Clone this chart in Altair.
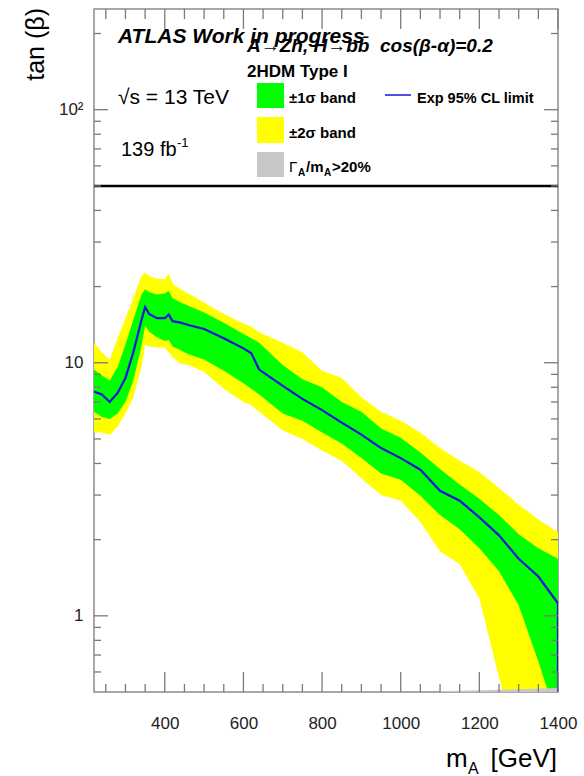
import altair as alt
import pandas as pd

# ---------------- data ----------------
mass = [220, 240, 260, 280, 300, 320, 340, 350, 360, 380, 400, 410, 420, 440, 460,
        500, 550, 600, 620, 640, 700, 750, 800, 850, 900, 950, 1000, 1050, 1100,
        1150, 1200, 1250, 1300, 1350, 1400]
exp_limit = [7.7, 7.5, 7.0, 7.6, 8.7, 11.0, 14.6, 16.6, 15.6, 15.0, 15.0, 15.5, 14.6, 14.4, 14.1,
             13.6, 12.5, 11.4, 10.9, 9.4, 8.1, 7.2, 6.5, 5.8, 5.2, 4.6, 4.2, 3.78, 3.12,
             2.85, 2.45, 2.08, 1.68, 1.43, 1.12]
up1 = [9.4, 8.9, 8.5, 9.6, 11.8, 14.8, 18.5, 19.5, 19.0, 18.6, 18.8, 19.2, 18.0, 17.3, 16.8,
       15.8, 14.4, 13.0, 12.5, 12.0, 9.8, 8.6, 8.0, 7.0, 6.4, 5.5, 5.05, 4.42, 3.8,
       3.3, 2.9, 2.5, 2.1, 1.85, 1.68]
dn1 = [6.4, 6.1, 6.0, 6.3, 7.0, 8.5, 11.5, 14.0, 13.3, 12.6, 12.2, 12.3, 11.6, 11.2, 10.8,
       10.3, 9.3, 8.3, 7.9, 7.5, 6.3, 5.9, 5.3, 4.8, 4.2, 3.65, 3.45, 2.98, 2.5,
       2.2, 1.85, 1.5, 1.1, 0.66, 0.38]
up2 = [12.0, 11.0, 10.3, 12.5, 15.0, 18.0, 22.0, 22.7, 22.0, 21.5, 21.4, 22.5, 20.5, 19.5, 18.8,
       17.3, 15.6, 14.3, 13.9, 13.2, 12.0, 11.0, 9.3, 8.7, 7.3, 6.4, 5.9, 5.3, 4.6,
       4.1, 3.7, 3.2, 2.75, 2.4, 2.14]
dn2 = [5.3, 5.3, 5.2, 5.6, 6.3, 7.3, 9.5, 11.8, 11.6, 11.5, 11.5, 11.0, 10.5, 9.9, 9.8,
       9.2, 7.9, 7.0, 6.8, 6.4, 5.4, 5.0, 4.5, 4.1, 3.5, 3.0, 2.85, 2.35, 1.8,
       1.6, 1.17, 0.57, 0.3, 0.3, 0.3]
# the expected limit falls straight down at the right edge
line_end_mass = [1400]
line_end_value = [0.45]

gray_mass = [1100, 1200, 1300, 1400]
gray_top = [0.503, 0.508, 0.513, 0.518]
gray_bottom = [0.5, 0.5, 0.5, 0.5]

hline_value = [50]          # thick horizontal line

x_major = [400, 600, 800, 1000, 1200, 1400]
x_minor = [m for m in range(250, 1400, 50) if m % 200]
y_major = [1, 10, 100]
y_minor = [0.6, 0.7, 0.8, 0.9, 2, 3, 4, 5, 6, 7, 8, 9, 20, 30, 40, 50, 60, 70, 80, 90, 200]

# ---------------- frames ----------------
df = pd.DataFrame({"mass": mass, "exp": exp_limit, "up1": up1, "dn1": dn1,
                   "up2": up2, "dn2": dn2})
line_df = pd.DataFrame({"mass": mass + line_end_mass,
                        "exp": exp_limit + line_end_value})
line_df["order"] = range(len(line_df))
gray_df = pd.DataFrame({"mass": gray_mass, "top": gray_top, "bottom": gray_bottom})
hline_df = pd.DataFrame({"v": hline_value})
one = pd.DataFrame({"k": [0]})

FONT = "Liberation Sans"
FRAME = "#8c8c8c"
TICK = "#7a7a7a"
BLUE = "#1414dc"
W, H = 464, 683

xs = alt.Scale(domain=[220, 1400], nice=False, zero=False)
ys = alt.Scale(type="log", domain=[0.5, 250], nice=False)

x_label_axis = alt.Axis(
    orient="bottom", values=x_major, ticks=False, domain=False, grid=False,
    title=None, labelFont=FONT, labelFontSize=17, labelColor="#222222", labelPadding=23,
    labelFlush=False, labelOverlap=False, format="d")
y_label_axis = alt.Axis(
    orient="left", values=y_major, ticks=False, domain=False, grid=False,
    title=None, labelFont=FONT, labelFontSize=17, labelColor="#222222", labelPadding=11,
    labelOverlap=False,
    labelExpr="datum.value == 100 ? '10²' : (datum.value == 10 ? '10' : '1')")

yellow = alt.Chart(df).mark_area(color="#ffff00", clip=True).encode(
    x=alt.X("mass:Q", scale=xs, axis=x_label_axis),
    y=alt.Y("up2:Q", scale=ys, axis=y_label_axis),
    y2="dn2:Q",
)
green = alt.Chart(df).mark_area(color="#00ff00", clip=True).encode(
    x=alt.X("mass:Q", scale=xs, axis=None),
    y=alt.Y("up1:Q", scale=ys, axis=None),
    y2="dn1:Q",
)
gray = alt.Chart(gray_df).mark_area(color="#c8c8c8", clip=True).encode(
    x=alt.X("mass:Q", scale=xs, axis=None),
    y=alt.Y("top:Q", scale=ys, axis=None),
    y2="bottom:Q",
)
line = alt.Chart(line_df).mark_line(color=BLUE, strokeWidth=2.2, clip=True).encode(
    x=alt.X("mass:Q", scale=xs, axis=None),
    y=alt.Y("exp:Q", scale=ys, axis=None),
    order="order:Q",
)
hline = alt.Chart(hline_df).mark_rule(color="black", strokeWidth=2.5).encode(
    y=alt.Y("v:Q", scale=ys, axis=None)
)


# ---- inward ROOT-style ticks on all four sides, placed through the scales ----
def xticks(values, length, top):
    d = pd.DataFrame({"t": values})
    y0, y1 = (0, length) if top else (H - length, H)
    return alt.Chart(d).mark_rule(color=TICK, strokeWidth=1.3).encode(
        x=alt.X("t:Q", scale=xs, axis=None), y=alt.value(y0), y2=alt.value(y1))


def yticks(values, length, right):
    d = pd.DataFrame({"t": values})
    x0, x1 = (W - length, W) if right else (0, length)
    return alt.Chart(d).mark_rule(color=TICK, strokeWidth=1.3).encode(
        y=alt.Y("t:Q", scale=ys, axis=None), x=alt.value(x0), x2=alt.value(x1))


ticks = [
    xticks(x_major, 20, False), xticks(x_minor, 8, False),
    xticks(x_major, 20, True), xticks(x_minor, 10, True),
    yticks(y_major, 14, False), yticks(y_minor, 7, False),
    yticks(y_major, 14, True), yticks(y_minor, 7, True),
]


def txt(s, x, y, size, weight="normal", style="normal", align="left", angle=0):
    return alt.Chart(one).mark_text(
        text=s, font=FONT, fontSize=size, fontWeight=weight, fontStyle=style,
        align=align, baseline="alphabetic", angle=angle, color="black"
    ).encode(x=alt.value(x), y=alt.value(y))


def box(color, x, x2, y, y2):
    return alt.Chart(one).mark_rect(color=color).encode(
        x=alt.value(x), x2=alt.value(x2), y=alt.value(y), y2=alt.value(y2))


legend = [
    box("#00ff00", 163, 190, 74, 99),
    box("#ffff00", 163, 190, 108, 134),
    box("#c8c8c8", 163, 190, 143, 168),
    alt.Chart(one).mark_rule(color=BLUE, strokeWidth=1.5).encode(
        x=alt.value(291), x2=alt.value(317), y=alt.value(86)),
    txt("±1σ band", 195, 94, 15, weight="bold"),
    txt("±2σ band", 195, 129, 15, weight="bold"),
    txt("Γ", 195, 163, 15),
    txt("A", 204, 167, 10, weight="bold"),
    txt("/m", 212, 163, 15, weight="bold"),
    txt("A", 230, 167, 10, weight="bold"),
    txt(">20%", 238, 163, 15, weight="bold"),
    txt("Exp 95% CL limit", 323, 94, 14.5, weight="bold"),
]

NB = "\u00a0"
texts = [
    txt("ATLAS Work in progress", 24, 34, 21, weight="bold", style="italic"),
    txt("A→Zh, H→bb̄" + NB + NB + "cos(β-α)=0.2", 153, 43, 19, weight="bold", style="italic"),
    txt("2HDM Type I", 153, 68, 17, weight="bold"),
    txt("√s = 13 TeV", 24, 95, 21),
    txt("139 fb", 27, 147, 20),
    txt("-1", 83, 138, 13),
    # axis titles
    txt("m", 352, 758, 26),
    txt("A", 374, 765, 16),
    txt("[GeV]", 463, 758, 26, align="right"),
    txt("tan (β)", -50, -1, 25, align="right", angle=270),
]

chart = alt.layer(yellow, green, gray, line, hline, *ticks, *legend, *texts).resolve_axis(
    x="independent", y="independent"
).properties(
    width=W, height=H,
    autosize=alt.AutoSizeParams(type="none"),
    padding={"left": 94, "top": 9, "right": 26, "bottom": 84},
).configure_view(stroke=FRAME, strokeWidth=1.5)

chart.save("out.html", embed_options={"renderer": "svg", "actions": False})
